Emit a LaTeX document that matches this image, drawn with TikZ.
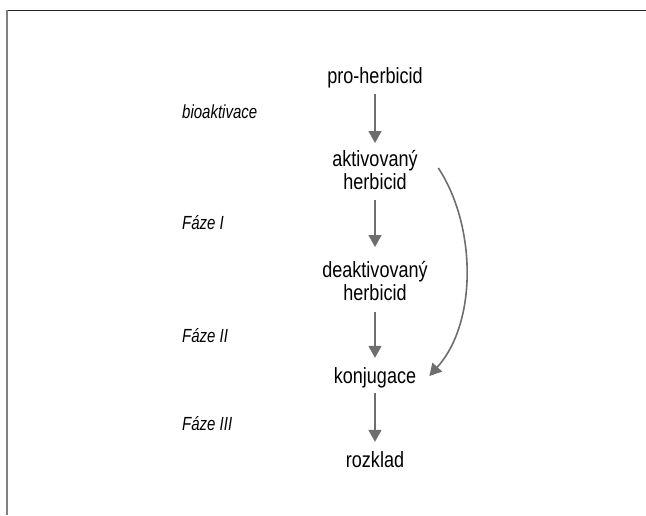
\documentclass[tikz,border=0pt]{standalone}
\usepackage{fontspec}
\setmainfont{Liberation Sans}[FakeStretch=0.82]
\newfontfamily\phasefont{Liberation Sans}[FakeStretch=0.79]
\usetikzlibrary{arrows.meta,calc}
\definecolor{arrgray}{HTML}{6E6E6E}
\tikzset{
  chem/.style={inner sep=0pt, font=\fontsize{22}{23.5}\selectfont, align=center},
  phase/.style={inner sep=0pt, anchor=base west, font=\phasefont\fontsize{19}{21}\selectfont\itshape},
  arr/.style={draw=arrgray, line width=1.6pt, -{Triangle[width=13pt,length=12pt]}, arrgray}
}
\begin{document}
\begin{tikzpicture}[x=1pt,y=-1pt]
\useasboundingbox (0,0) rectangle (646,515);
\draw[draw=black!85, line width=1pt] (7,10) -- (646,10);
\draw[draw=black!50, line width=1.4pt] (7,10) -- (7,515);
\node[chem, anchor=base] (p) at (375,83) {pro-herbicid};
\node[chem, anchor=north] (a) at (375,150) {aktivovaný\\herbicid};
\node[chem, anchor=north] (d) at (375,261) {deaktivovaný\\herbicid};
\node[chem, anchor=base] (k) at (375,383) {konjugace};
\node[chem, anchor=base] (r) at (375,467) {rozklad};
\node[phase] (l1) at (182,118) {bioaktivace};
\node[phase] (l2) at (182,229) {Fáze I};
\node[phase] (l3) at (182,342) {Fáze II};
\node[phase] (l4) at (182,430) {Fáze III};
\draw[arr, shorten <=6.4pt, shorten >=7pt] (p.south) -- (a.north);
\draw[arr, shorten <=9.5pt, shorten >=14pt] (a.south) -- (d.north);
\draw[arr, shorten <=10.5pt, shorten >=9pt] (d.south) -- (k.north);
\draw[arr, shorten <=5.4pt, shorten >=9pt] (k.south) -- (r.north);
\draw[arr] ($(a.north east)+(20.5,18)$) .. controls (476,225) and (478,322) .. ($(k.east)+(13,-1.3)$);
\end{tikzpicture}
\end{document}
